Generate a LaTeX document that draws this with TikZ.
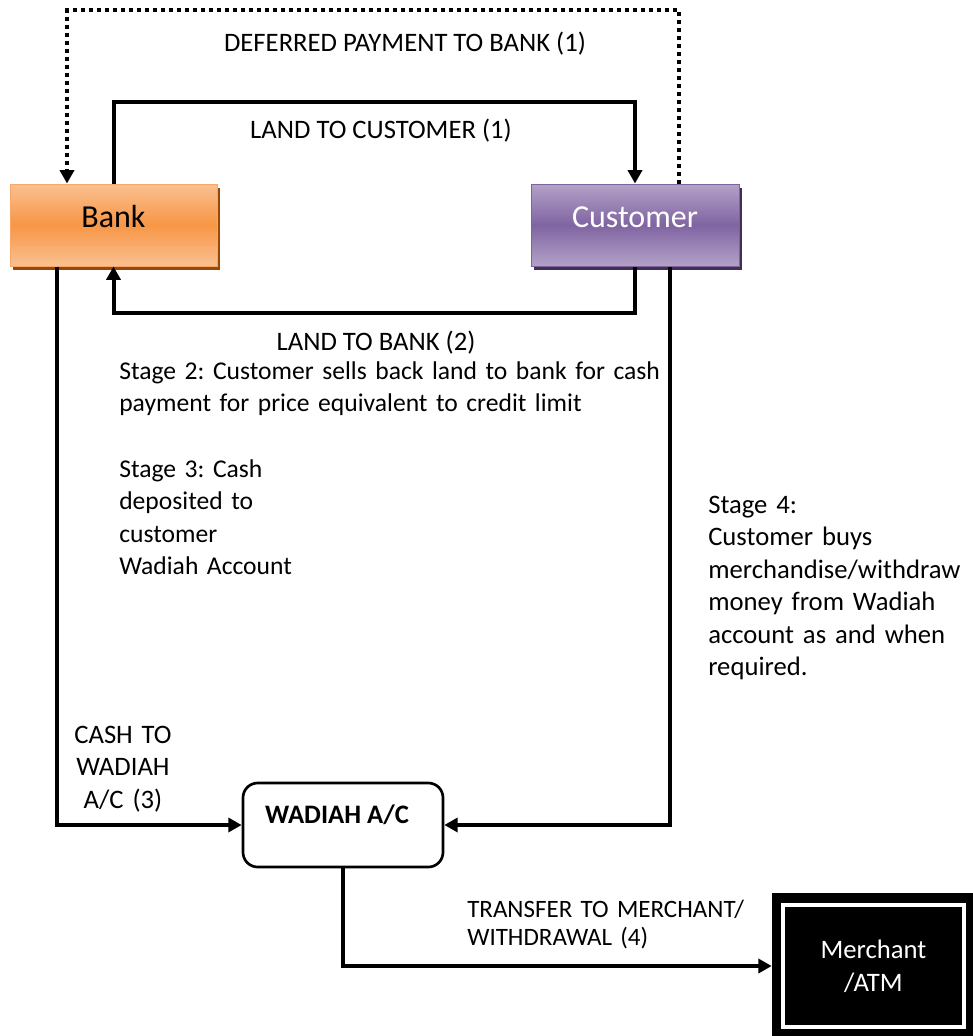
\documentclass[tikz,border=0pt]{standalone}
\usepackage{fontspec}
\setmainfont{Carlito}
\usetikzlibrary{arrows.meta,shadows}
\definecolor{orTop}{HTML}{FAC090}
\definecolor{orMid}{HTML}{F79646}
\definecolor{orEdge}{HTML}{F9A66A}
\definecolor{orShadow}{HTML}{984807}
\definecolor{puTop}{HTML}{B3A2C7}
\definecolor{puMid}{HTML}{8064A2}
\definecolor{puEdge}{HTML}{7F63A1}
\definecolor{puShadow}{HTML}{3F3151}
\begin{document}
\frenchspacing
\begin{tikzpicture}[x=0.75pt,y=-0.75pt,
  tip/.style={-{Triangle[length=10pt,width=10.5pt]}},
  conn/.style={line width=3pt, tip},
  dotline/.style={line width=3pt, dash pattern=on 3pt off 3pt, tip},
  lbl/.style={font=\fontsize{20}{24.4}\selectfont, inner sep=0pt},
  stlbl/.style={font=\fontsize{19.2}{24.4}\selectfont, inner sep=0pt},
  smlbl/.style={font=\fontsize{18.75}{21}\selectfont, inner sep=0pt},
  mainbox/.style={minimum height=61.5pt, inner sep=0pt, line width=0.75pt,
    font=\fontsize{24}{28}\selectfont, text height=12pt, text depth=8.5pt},
  bankbox/.style={mainbox, minimum width=155.25pt, draw=orEdge,
    top color=orTop, bottom color=orTop, middle color=orMid,
    drop shadow={shadow xshift=2.25pt, shadow yshift=-3pt, fill=orShadow, opacity=1}},
  custbox/.style={mainbox, minimum width=156pt, draw=puEdge, text=white,
    top color=puTop, bottom color=puTop, middle color=puMid,
    drop shadow={shadow xshift=2.25pt, shadow yshift=-3pt, fill=puShadow, opacity=1}},
  wadbox/.style={draw, line width=2pt, rounded corners=11pt, minimum width=150pt,
    minimum height=63pt, inner sep=0pt, font=\fontsize{20}{24}\selectfont\bfseries,
    text height=8pt, text depth=10pt},
  merchbox/.style={fill=black, draw=black, minimum width=152.25pt, minimum height=109.5pt,
    inner sep=0pt, text=white, align=center, font=\fontsize{20}{24.75}\selectfont}
]
\useasboundingbox (0,0) rectangle (972,1036);
\fill[white] (0,0) rectangle (972,1036);

% boxes
\node[bankbox] (bank) at (113.5,225) {Bank};
\node[custbox] (cust) at (635,225) {Customer};
\node[wadbox] (wad) at (343,825) {WADIAH A/C\kern9pt};
\node[merchbox] (merch) at (873.5,966) {Merchant\\/ATM};
\draw[white, line width=3pt] ([shift={(11,12)}]merch.north west) rectangle ([shift={(-11,-12)}]merch.south east);

% helper coordinates
\coordinate (dTR) at (679,10);
\coordinate (dTL) at (67,10);
\coordinate (lcTop) at (380,102);
\coordinate (lbBot) at (380,313);
\coordinate (bL) at (57,0);
\coordinate (cR) at (670,0);

% connectors
\draw[dotline] (cust.north -| dTR) -- (dTR) -- (dTL) -- (bank.north -| dTL);
\draw[conn] (bank.north) |- (lcTop) -| (cust.north);
\draw[conn] (cust.south) |- (lbBot) -| (bank.south);
\draw[conn] (bank.south -| bL) |- (wad.west);
\draw[conn] (cust.south -| cR) |- (wad.east);
\draw[conn] (wad.south) |- (merch.west);

% labels
\node[lbl, anchor=base] (tDef) at (405,51.5) {DEFERRED PAYMENT TO BANK (1)};
\node[lbl, anchor=base] (tLC) at (381,138) {LAND TO CUSTOMER (1)};
\node[lbl, anchor=base] (tLB) at (376,350) {LAND TO BANK (2)};
\node[stlbl, anchor=base west, text width=480pt, align=left] (tS2) at (119,379)
  {Stage 2: Customer sells back land to bank for cash\\payment for price equivalent to credit limit};
\node[stlbl, anchor=base west, text width=160pt, align=left] (tS3) at (119,477)
  {Stage 3: Cash\\deposited to\\customer\\Wadiah Account};
\node[lbl, anchor=base west, text width=195pt, align=left] (tS4) at (708,513)
  {Stage 4:\\Customer buys\\merchandise/withdraw\\money from Wadiah\\account as and when\\required.};
\node[lbl, anchor=base, text width=100pt, align=center] (tCash) at (123,743)
  {CASH TO\\WADIAH\\A/C (3)};
\node[smlbl, anchor=base west, text width=240pt, align=left] (tTr) at (467,917)
  {TRANSFER TO MERCHANT/\\WITHDRAWAL (4)};
\end{tikzpicture}
\end{document}
